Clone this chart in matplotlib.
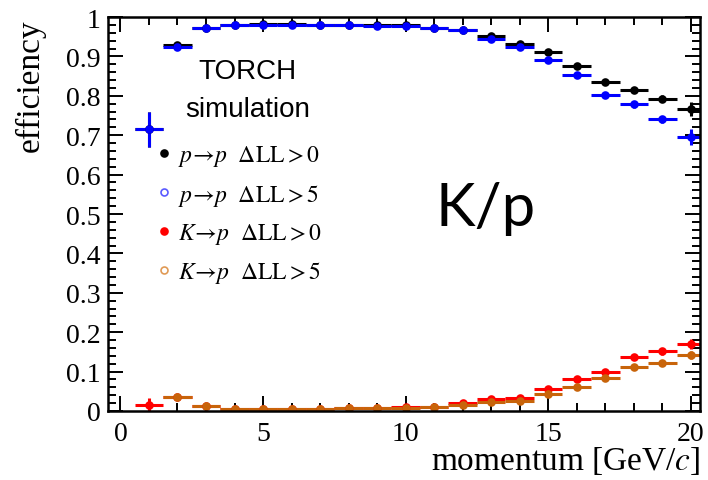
import numpy as np
import matplotlib
matplotlib.use("Agg")
import matplotlib.pyplot as plt
from matplotlib.lines import Line2D
from matplotlib.ticker import MultipleLocator, FuncFormatter

plt.rcParams["mathtext.fontset"] = "stix"
plt.rcParams["font.family"] = ["Liberation Serif", "DejaVu Serif"]

# momentum bins (GeV/c), centre values with +-0.5 half width
momentum = np.arange(1, 21)
bin_half_width = 0.5

# p -> p, DeltaLL > 0
eff_pp_0 = [0.715, 0.929, 0.972, 0.981, 0.982, 0.982, 0.981, 0.980, 0.979, 0.979,
            0.972, 0.967, 0.951, 0.931, 0.910, 0.875, 0.834, 0.815, 0.793, 0.766]
err_pp_0 = [0.045, 0.004, 0.003, 0.002, 0.002, 0.002, 0.002, 0.002, 0.002, 0.002,
            0.002, 0.003, 0.003, 0.004, 0.005, 0.005, 0.006, 0.007, 0.008, 0.018]
# p -> p, DeltaLL > 5
eff_pp_5 = [0.715, 0.924, 0.971, 0.980, 0.981, 0.981, 0.980, 0.980, 0.978, 0.978,
            0.971, 0.966, 0.944, 0.924, 0.891, 0.852, 0.802, 0.778, 0.740, 0.696]
err_pp_5 = [0.045, 0.004, 0.003, 0.002, 0.002, 0.002, 0.002, 0.002, 0.002, 0.002,
            0.002, 0.003, 0.003, 0.004, 0.005, 0.006, 0.007, 0.008, 0.010, 0.021]
# K -> p, DeltaLL > 0
eff_kp_0 = [0.015, 0.036, 0.013, 0.004, 0.004, 0.004, 0.004, 0.007, 0.008, 0.009,
            0.010, 0.020, 0.031, 0.032, 0.055, 0.081, 0.100, 0.138, 0.151, 0.170]
err_kp_0 = [0.017, 0.004, 0.002, 0.001, 0.001, 0.001, 0.001, 0.001, 0.001, 0.001,
            0.002, 0.002, 0.003, 0.003, 0.004, 0.005, 0.006, 0.007, 0.008, 0.012]
# K -> p, DeltaLL > 5
eff_kp_5 = [np.nan, 0.036, 0.013, 0.004, 0.004, 0.004, 0.004, 0.007, 0.008, 0.008,
            0.010, 0.015, 0.024, 0.026, 0.043, 0.062, 0.084, 0.111, 0.121, 0.142]
err_kp_5 = [0.0, 0.004, 0.002, 0.001, 0.001, 0.001, 0.001, 0.001, 0.001, 0.001,
            0.002, 0.002, 0.003, 0.003, 0.004, 0.005, 0.006, 0.007, 0.008, 0.010]

series = [
    (eff_pp_0, err_pp_0, "black", "black", r"$p\!\rightarrow\!p\ \ \Delta\mathrm{LL} > 0$"),
    (eff_pp_5, err_pp_5, "#0000ff", "#5a5aff", r"$p\!\rightarrow\!p\ \ \Delta\mathrm{LL} > 5$"),
    (eff_kp_0, err_kp_0, "#ff0000", "#ff0000", r"$K\!\rightarrow\!p\ \ \Delta\mathrm{LL} > 0$"),
    (eff_kp_5, err_kp_5, "#c8640a", "#e09a55", r"$K\!\rightarrow\!p\ \ \Delta\mathrm{LL} > 5$"),
]
legend_open = [False, True, False, True]

fig = plt.figure(figsize=(7.08, 4.81), dpi=100)
ax = fig.add_axes([0.152, 0.1435, 0.837, 0.819])

for vals, errs, col, _, _ in series:
    ax.errorbar(momentum, vals, xerr=bin_half_width, yerr=errs, fmt="o", color=col,
                ms=6.2, elinewidth=2.2, capsize=0, mew=0)

ax.set_xlim(-0.45, 20.33)
ax.set_ylim(0, 1)

ax.xaxis.set_major_locator(MultipleLocator(5))
ax.xaxis.set_minor_locator(MultipleLocator(1))
ax.yaxis.set_major_locator(MultipleLocator(0.1))
ax.yaxis.set_minor_locator(MultipleLocator(0.02))
ax.yaxis.set_major_formatter(FuncFormatter(
    lambda v, p: "0" if abs(v) < 1e-9 else ("1" if abs(v - 1) < 1e-9 else f"{v:.1f}")))

ax.tick_params(which="both", direction="in", top=True, right=True, width=1.4,
               labelsize=20, color="black")
ax.tick_params(which="major", length=11)
ax.tick_params(which="minor", length=6)
ax.tick_params(axis="x", pad=7)
ax.tick_params(axis="y", pad=5)
for s in ax.spines.values():
    s.set_linewidth(1.8)

ax.set_ylabel("efficiency", fontsize=24, loc="top")
ax.yaxis.set_label_coords(-0.105, 0.997)
ax.set_xlabel("momentum [GeV/$c$]", fontsize=24, loc="right")
ax.xaxis.set_label_coords(1.0, -0.085)
ax.xaxis.label.set_va("top")

# legend with small marker dots
handles = []
labels = []
for (vals, errs, col, lcol, lab), op in zip(series, legend_open):
    handles.append(Line2D([], [], ls="none", marker="o", ms=5,
                          mfc="none" if op else lcol, mec=lcol, mew=1.2))
    labels.append(lab)
leg = ax.legend(handles, labels, loc="upper left", bbox_to_anchor=(0.067, 0.703),
                frameon=False, fontsize=17, handlelength=0.6, handletextpad=0.3,
                labelspacing=0.56, borderaxespad=0)

sans = ["Liberation Sans", "DejaVu Sans"]
ax.text(4.45, 0.862, "TORCH", ha="center", va="center", fontsize=20, family=sans)
ax.text(4.45, 0.767, "simulation", ha="center", va="center", fontsize=20, family=sans)
ax.text(12.8, 0.473, "K/p", ha="center", va="baseline", fontsize=43,
        family=["Lato", "DejaVu Sans"])

fig.savefig("out.png", dpi=100)
